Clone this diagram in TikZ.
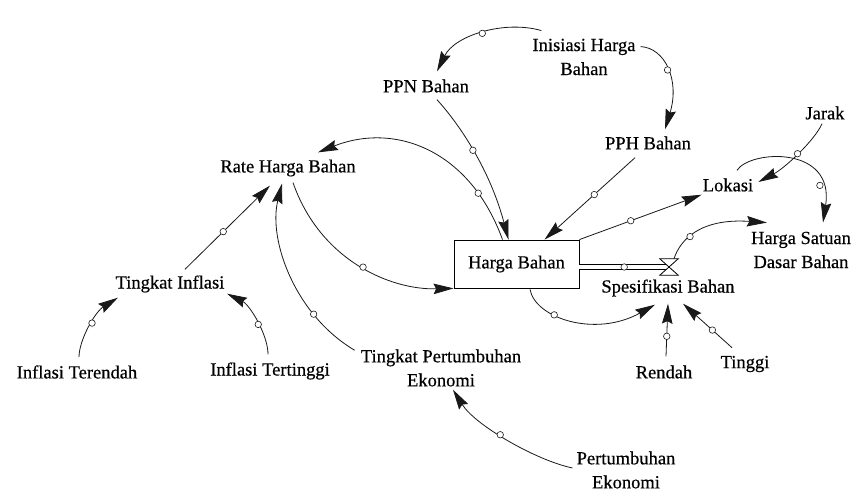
\documentclass[tikz,border=0pt]{standalone}
\usepackage{fontspec}
\setmainfont{Liberation Serif}
\newfontfamily\lblfont{Liberation Serif}[FakeBold=0.5]
\usetikzlibrary{arrows.meta}
\begin{document}
\begin{tikzpicture}[x=1pt,y=-1pt,
  lbl/.style={inner sep=0pt, font=\lblfont\fontsize{18.5}{24}\selectfont, align=center},
  link/.style={draw=black!90, line width=0.8pt, -{Stealth[length=20pt,width=10.5pt,inset=2.5pt]}},
  dotc/.style={circle, draw=black!90, fill=white, line width=0.6pt, inner sep=0pt, minimum size=6.5pt}]
\fill[white] (0,0) rectangle (868,502);
\useasboundingbox (0,0) rectangle (868,502);

% nodes
\node[lbl] (ini) at (584,57) {Inisiasi Harga\\Bahan};
\node[lbl] (ppn) at (426,86) {PPN Bahan};
\node[lbl] (pph) at (648,143) {PPH Bahan};
\node[lbl] (rate) at (288,168) {Rate Harga Bahan};
\node[lbl] (jarak) at (825,113) {Jarak};
\node[lbl] (lokasi) at (728,185) {Lokasi};
\node[lbl, draw, line width=0.8pt, minimum width=125pt, minimum height=48pt] (hb) at (516.5,264) {Harga Bahan};
\node[lbl] (hsdb) at (801,250) {Harga Satuan\\Dasar Bahan};
\node[lbl] (spes) at (668,288) {Spesifikasi Bahan};
\node[lbl] (rendah) at (664,372) {Rendah};
\node[lbl] (tinggi) at (745,364) {Tinggi};
\node[lbl] (tpe) at (441,368) {Tingkat Pertumbuhan\\Ekonomi};
\node[lbl] (pe) at (626,470) {Pertumbuhan\\Ekonomi};
\node[lbl] (ti) at (170,284) {Tingkat Inflasi};
\node[lbl] (iter) at (77,372) {Inflasi Terendah};
\node[lbl] (itt) at (270,371) {Inflasi Tertinggi};
\node[minimum width=18pt, minimum height=16pt, inner sep=0pt] (valve) at (669,267) {};

% flow pipe and valve
\draw[line width=0.8pt, double distance=4.5pt] (hb.east |- valve.center) -- (valve.center) node[dotc, pos=0.5] (c0) {};
\draw[line width=0.8pt, fill=white] (valve.north west) -- (valve.north east) -- (valve.south west) -- (valve.south east) -- cycle;

% connectors
\draw[link] ([shift={(9,-8)}]ini.north west) .. controls (505,20) and (455,35) .. ([shift={(11,-8)}]ppn.north) node[dotc,pos=0.5] (c1) {};
\draw[link] ([shift={(5,8)}]ini.north east) .. controls (665,48) and (680,80) .. ([shift={(17,-7)}]pph.north) node[dotc,pos=0.5] (c2) {};
\draw[link] ([shift={(11,7)}]ppn.south) .. controls (460,125) and (490,170) .. ([shift={(-8,0)}]hb.north) node[dotc,pos=0.48] (c3) {};
\draw[link] ([shift={(-13,8)}]pph.south) -- ([shift={(28,0)}]hb.north) node[dotc,pos=0.45] (c4) {};
\draw[link] ([shift={(-14,0)}]hb.north) .. controls (470,150) and (395,122) .. ([shift={(30,-7)}]rate.north) node[dotc,pos=0.2] (c5) {};
\draw[link] ([shift={(5,6)}]rate.south) .. controls (320,260) and (390,290) .. (hb.south west) node[dotc,pos=0.52] (c6) {};
\draw[link] ([shift={(15,-6)}]ti.north) -- ([shift={(-18,9)}]rate.south) node[dotc,pos=0.45] (c7) {};
\draw[link] ([shift={(-6,1)}]tpe.north west) .. controls (295,315) and (268,240) .. ([shift={(-6,7)}]rate.south) node[dotc,pos=0.27] (c8) {};
\draw[link] ([shift={(2,-8)}]iter.north) .. controls (79,340) and (95,312) .. ([shift={(2.5,5)}]ti.south west) node[dotc,pos=0.55] (c9) {};
\draw[link] ([shift={(-2,-8)}]itt.north) .. controls (268,335) and (250,305) .. ([shift={(2.5,1)}]ti.south east) node[dotc,pos=0.45] (c10) {};
\draw[link] ([shift={(-4,-2)}]pe.west) .. controls (535,460) and (475,425) .. ([shift={(12,3)}]tpe.south) node[dotc,pos=0.55] (c11) {};
\draw[link] (hb.north east) -- ([shift={(-1,3)}]lokasi.south west) node[dotc,pos=0.42] (c12) {};
\draw[link] ([shift={(-3,4)}]jarak.south) .. controls (815,140) and (785,168) .. ([shift={(5,-3)}]lokasi.east) node[dotc,pos=0.5] (c13) {};
\draw[link] ([shift={(9,-8)}]lokasi.north) .. controls (750,150) and (835,145) .. ([shift={(22,-9)}]hsdb.north) node[dotc,pos=0.8] (c14) {};
\draw[link] ([shift={(5,0)}]valve.north) .. controls (680,240) and (700,218) .. ([shift={(16,-9)}]hsdb.north west) node[dotc,pos=0.4] (c15) {};
\draw[link] ([shift={(13.5,1)}]hb.south) .. controls (535,318) and (595,338) .. ([shift={(-13,8)}]spes.south) node[dotc,pos=0.36] (c16) {};
\draw[link] ([shift={(2,-9)}]rendah.north) -- ([shift={(0,7)}]spes.south) node[dotc,pos=0.38] (c17) {};
\draw[link] ([shift={(-13,-8)}]tinggi.north) -- ([shift={(15,7)}]spes.south) node[dotc,pos=0.4] (c18) {};
\end{tikzpicture}
\end{document}
